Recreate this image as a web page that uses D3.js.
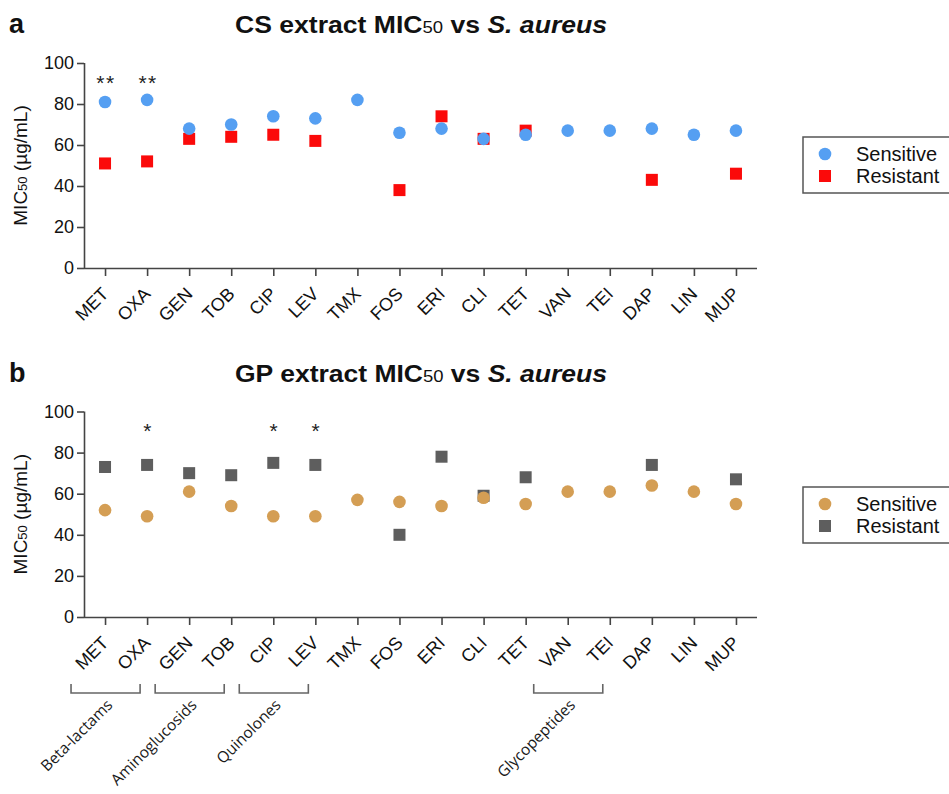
<!DOCTYPE html>
<html><head><meta charset="utf-8">
<script src="https://cdn.jsdelivr.net/npm/d3@7"></script>
<style>body{margin:0;background:#fff}svg{display:block}</style>
</head><body>
<svg id="chart" width="949" height="794"></svg>
<script>
const categories = ["MET","OXA","GEN","TOB","CIP","LEV","TMX","FOS","ERI","CLI","TET","VAN","TEI","DAP","LIN","MUP"];
const yTicks = [0,20,40,60,80,100];
// Panel a: CS extract
const csSensitive = [81,82,68,70,74,73,82,66,68,63,65,67,67,68,65,67];
const csResistant = [51,52,63,64,65,62,null,38,74,63,67,null,null,43,null,46];
const csSig = ["**","**","","","","","","","","","","","","","",""];
// Panel b: GP extract
const gpSensitive = [52,49,61,54,49,49,57,56,54,58,55,61,61,64,61,55];
const gpResistant = [73,74,70,69,75,74,null,40,78,59,68,null,null,74,null,67];
const gpSig = ["","*","","","*","*","","","","","","","","","",""];
const groups = [
  {name:"Beta-lactams", from:"MET", to:"OXA"},
  {name:"Aminoglucosids", from:"GEN", to:"TOB"},
  {name:"Quinolones", from:"CIP", to:"LEV"},
  {name:"Glycopeptides", from:"VAN", to:"TEI"}
];

const svg = d3.select("#chart");
const FONT = "'Liberation Sans', Arial, sans-serif";

function panel(opts){
  const {letter, prefix, top, bottom, sens, res, sig, sensColor, resColor, legendY} = opts;
  const x = d3.scalePoint().domain(categories).range([84,757]).padding(0.5);
  const y = d3.scaleLinear().domain([0,100]).range([bottom, top]);
  const g = svg.append("g");

  // panel letter
  g.append("text").attr("x",9).attr("y",top-30).attr("font-family",FONT)
    .attr("font-weight","bold").attr("font-size",27).attr("fill","#111").text(letter);
  // title
  const t = g.append("text").attr("x",421).attr("y",top-30).attr("text-anchor","middle")
    .attr("font-family",FONT).attr("font-weight","bold").attr("font-size",23).attr("fill","#111")
    .attr("textLength",372).attr("lengthAdjust","spacingAndGlyphs");
  t.append("tspan").text(prefix+" extract MIC");
  t.append("tspan").attr("font-size",16).attr("font-weight","normal").text("50");
  t.append("tspan").text(" vs ");
  t.append("tspan").attr("font-style","italic").text("S. aureus");

  // axes
  const ya = g.append("g").attr("transform","translate(84,0)")
    .call(d3.axisLeft(y).tickValues(yTicks).tickSize(7).tickSizeOuter(0).tickPadding(3));
  const xa = g.append("g").attr("transform",`translate(0,${bottom})`)
    .call(d3.axisBottom(x).tickSize(8).tickSizeOuter(0));
  [ya,xa].forEach(a=>{
    a.select(".domain").attr("stroke","#444").attr("stroke-width",1.6);
    a.selectAll(".tick line").attr("stroke","#444").attr("stroke-width",1.6);
    a.selectAll("text").attr("font-family",FONT).attr("fill","#111");
  });
  xa.select(".domain").attr("d",`M84,0.5H757`);
  ya.select(".domain").attr("d",`M0.5,${top}V${bottom}`);
  ya.selectAll("text").attr("font-size",18);
  xa.selectAll("text").attr("font-size",18).attr("text-anchor","end")
    .attr("y",0).attr("dy",0).attr("transform","translate(4,27) rotate(-45)");

  // y label
  const yl = g.append("text").attr("transform",`translate(27,${(top+bottom)/2}) rotate(-90)`)
    .attr("text-anchor","middle").attr("font-family",FONT).attr("font-size",19).attr("fill","#111");
  yl.append("tspan").text("MIC");
  yl.append("tspan").attr("font-size",13).text("50");
  yl.append("tspan").text(" (µg/mL)");

  // marks: resistant first, sensitive on top
  const rd = categories.map((c,i)=>({c, v:res[i]})).filter(d=>d.v!==null);
  const sd = categories.map((c,i)=>({c, v:sens[i]}));
  g.append("g").selectAll("rect").data(rd).join("rect")
    .attr("x",d=>x(d.c)-6).attr("y",d=>y(d.v)-6).attr("width",12).attr("height",12)
    .attr("fill",resColor);
  g.append("g").selectAll("circle").data(sd).join("circle")
    .attr("cx",d=>x(d.c)).attr("cy",d=>y(d.v)).attr("r",6.3).attr("fill",sensColor);

  // significance
  g.append("g").selectAll("text").data(categories.map((c,i)=>({c, s:sig[i]})).filter(d=>d.s))
    .join("text").attr("x",d=>x(d.c)+1).attr("y",y(87))
    .attr("text-anchor","middle").attr("font-family",FONT).attr("font-size",21)
    .attr("letter-spacing",1.5).attr("fill","#222").text(d=>d.s);

  // legend
  const lg = g.append("g");
  lg.append("rect").attr("x",803).attr("y",legendY).attr("width",160).attr("height",56)
    .attr("fill","#fff").attr("stroke","#555").attr("stroke-width",1.5);
  lg.append("circle").attr("cx",825).attr("cy",legendY+17).attr("r",6.3).attr("fill",sensColor);
  lg.append("rect").attr("x",819).attr("y",legendY+33).attr("width",12).attr("height",12).attr("fill",resColor);
  lg.append("text").attr("x",856).attr("y",legendY+24).attr("font-family",FONT).attr("font-size",20)
    .attr("fill","#111").text("Sensitive");
  lg.append("text").attr("x",856).attr("y",legendY+46).attr("font-family",FONT).attr("font-size",20)
    .attr("fill","#111").text("Resistant");
  return x;
}

panel({letter:"a", prefix:"CS", top:63, bottom:268, sens:csSensitive, res:csResistant, sig:csSig,
  sensColor:"#559ff2", resColor:"#fb0a0a", legendY:137});
const xb = panel({letter:"b", prefix:"GP", top:411.5, bottom:617, sens:gpSensitive, res:gpResistant, sig:gpSig,
  sensColor:"#d49e54", resColor:"#5e5e5e", legendY:487});

// group brackets
const gg = svg.append("g");
groups.forEach(gr=>{
  const x0 = xb(gr.from)-34, x1 = xb(gr.to)-7;
  gg.append("path").attr("d",`M${x0},684V693H${x1}V684`).attr("fill","none")
    .attr("stroke","#666").attr("stroke-width",1.6);
  gg.append("text").attr("transform",`translate(${(x0+x1)/2+8},706) rotate(-45)`)
    .attr("text-anchor","end").attr("font-family","'Open Sans', sans-serif").attr("font-size",15.5)
    .attr("fill","#1a1a1a").text(gr.name);
});
</script>
</body></html>
